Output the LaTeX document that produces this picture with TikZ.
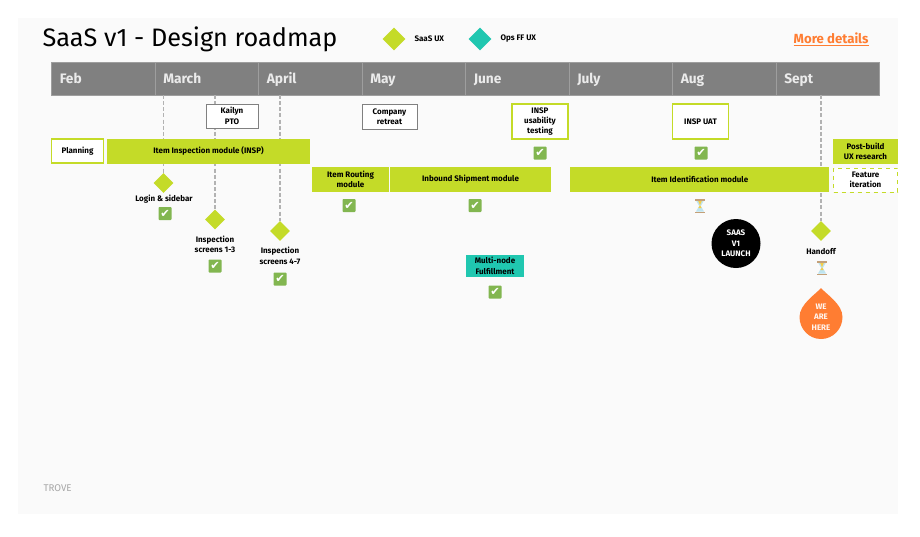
\documentclass[tikz,border=0pt]{standalone}
\usepackage{fontspec}
\setmainfont{Fira Sans}
\newfontfamily\symfont{DejaVu Sans}
\usetikzlibrary{shapes.geometric}

\definecolor{lime}{RGB}{196,219,40}
\definecolor{teal}{RGB}{32,199,176}
\definecolor{monthgray}{RGB}{128,128,128}
\definecolor{monthline}{RGB}{158,158,158}
\definecolor{panel}{RGB}{250,250,250}
\definecolor{tagorange}{RGB}{255,125,50}
\definecolor{donegreen}{RGB}{130,182,80}
\definecolor{capbrown}{RGB}{196,160,120}
\definecolor{glassblue}{RGB}{190,228,240}
\definecolor{sandyellow}{RGB}{245,205,70}

\tikzset{every picture/.style={line width=0.75pt}}
\tikzset{
  boxw/.style={minimum width=#1*0.75pt},
  boxh/.style={minimum height=#1*0.75pt},
  lbl/.style={font=\fontsize{6}{7.8}\selectfont\bfseries, align=center, inner sep=0pt, text=black},
  monthbox/.style={draw=monthline, fill=monthgray, boxw=103.5, anchor=west, inner sep=0pt, text=white!92!black, font=\fontsize{10.3}{12}\selectfont\bfseries, text height=8pt, text depth=1.2pt, minimum height=33*0.75pt},
  limebar/.style={lbl, fill=lime},
  limebox/.style={lbl, draw=lime, fill=white, line width=0.8pt},
  graybox/.style={lbl, draw=black!50, fill=white, line width=0.7pt},
  limetag/.style={diamond, fill=lime, inner sep=0pt, minimum size=20*0.75pt},
  drop/.style={draw=black!30, line width=0.9pt, dash pattern=on 3pt off 1.6pt},
  donebox/.style={fill=donegreen, rounded corners=0.6pt, minimum size=13*0.75pt, inner sep=0pt, text=white, font=\symfont\fontsize{8.5}{9}\selectfont},
  pics/waiting/.style={code={
    \fill [glassblue] (-4,-5.5) -- (4,-5.5) -- (0.8,0) -- (4,5.5) -- (-4,5.5) -- (-0.8,0) -- cycle;
    \fill [sandyellow] (-1.6,-2) -- (1.6,-2) -- (0,0.8) -- (2,5.5) -- (-2,5.5) -- (0,0.8) -- cycle;
    \fill [capbrown] (-4.8,-7) rectangle (4.8,-5.5);
    \fill [capbrown] (-4.8,5.5) rectangle (4.8,7);
  }}
}

\begin{document}
\begin{tikzpicture}[x=0.75pt,y=0.75pt,yscale=-1,xscale=1]
\useasboundingbox (0,0) rectangle (920,536);

% Panel
\fill [panel] (18,18) rectangle (898,514);

% Title row
\node (title) [anchor=west, inner sep=0pt, font=\fontsize{18.95}{22}\selectfont] at (42,39.5) {SaaS v1 - Design roadmap};
\node (legendlime) [limetag, minimum size=23*0.75pt] at (394,39) {};
\node (legendlimetxt) [lbl, anchor=west] at (414,38.5) {SaaS UX};
\node (legendteal) [limetag, fill=teal, minimum size=23*0.75pt] at (480,39) {};
\node (legendtealtxt) [lbl, anchor=west] at (500,38.5) {Ops FF UX};
\node (details) [anchor=east, inner sep=0pt, text=tagorange, font=\fontsize{9.9}{12}\selectfont\bfseries] at (869,39.5) {\underline{More details}};

% Months
\foreach \mname/\mx/\mid in {Feb/51/feb,March/154.5/mar,April/258/apr,May/361.5/may,June/465/jun,July/568.5/jul,Aug/672/aug,Sept/775.5/sep}{
  \node (\mid) [monthbox, text width=87*0.75pt, align=left] at (\mx,78.5) {\mname};
}

% Feed points under the months
\coordinate (feeda) at (163.5,95);
\coordinate (feedb) at (215,95);
\coordinate (feedc) at (280,95);
\coordinate (feedd) at (821,95);

% Milestones
\node (login) [limetag] at (163.5,183) {};
\node (screensa) [limetag] at (215,219.5) {};
\node (screensb) [limetag] at (280,231) {};
\node (handoff) [limetag] at (821,231) {};

% Dashed lines
\draw [drop] (feeda) -- (login);
\draw [drop] (feedb) -- (screensa);
\draw [drop] (feedc) -- (screensb);
\draw [drop] (feedd) -- (handoff);

% Boxes above the bars
\node (pto) [graybox, boxw=52, boxh=24] at (232,116) {Kailyn\\PTO};
\node (retreat) [graybox, boxw=55, boxh=25] at (389.5,116.5) {Company\\retreat};
\node (usability) [limebox, boxw=56, boxh=35] at (540,121.5) {INSP\\usability\\testing};
\node (uat) [limebox, boxw=56, boxh=35] at (700.5,121.5) {INSP UAT};

% Bars
\node (planning) [limebox, boxw=52, boxh=24] at (77.5,151) {Planning};
\node (inspection) [limebar, boxw=203, boxh=25.5] at (208.5,151.3) {Item Inspection module (INSP)};
\node (routing) [limebar, boxw=77, boxh=25.5] at (350.5,179.5) {Item Routing\\module};
\node (inbound) [limebar, boxw=161.5, boxh=25.5] at (470.5,179.5) {Inbound Shipment module};
\node (identification) [limebar, boxw=259.5, boxh=25.5] at (699.7,179.5) {Item Identification module};
\node (postbuild) [limebar, boxw=65, boxh=25.5] at (865.5,151.5) {Post-build\\UX research};
\node (iteration) [limebox, dashed, boxw=64, boxh=24, line width=0.6pt] at (865.5,180) {Feature\\iteration};
\node (fulfillment) [lbl, fill=teal, boxw=58, boxh=22] at (495,266) {Multi-node\\Fulfillment};

% Milestone labels
\node (loginlbl) [lbl] at (164,199) {Login \& sidebar};
\node (screensalbl) [lbl] at (215,244.5) {Inspection\\screens 1-3};
\node (screensblbl) [lbl] at (280,256) {Inspection\\screens 4-7};
\node (handofflbl) [lbl] at (821,251.5) {Handoff};

% Launch and current position
\node (launch) [circle, fill=black, minimum size=49*0.75pt, lbl, text=white] at (736,243.5) {SAAS\\V1\\LAUNCH};
\fill [tagorange] (821,288) .. controls (826,294) and (842.5,304) .. (842.5,317) .. controls (842.5,329) and (833,339) .. (821,339) .. controls (809,339) and (799.5,329) .. (799.5,317) .. controls (799.5,304) and (816,294) .. (821,288) -- cycle;
\node (here) [lbl, text=white!92!tagorange] at (821,317) {WE\\ARE\\HERE};

% Done marks
\foreach \cid/\cx/\cy in {a/165/213.5,b/215/266,c/280/279,d/349/205.5,e/475/205.5,f/540/153,g/701/153,h/495/292}{
  \node (done\cid) [donebox] at (\cx,\cy) {✔};
}

% Waiting marks
\pic at (700,206) {waiting};
\pic at (822,268) {waiting};

% Footer
\node (trove) [anchor=west, inner sep=0pt, text=black!35, font=\fontsize{7.3}{8}\selectfont] at (43,488.5) {TROVE};

\end{tikzpicture}
\end{document}
